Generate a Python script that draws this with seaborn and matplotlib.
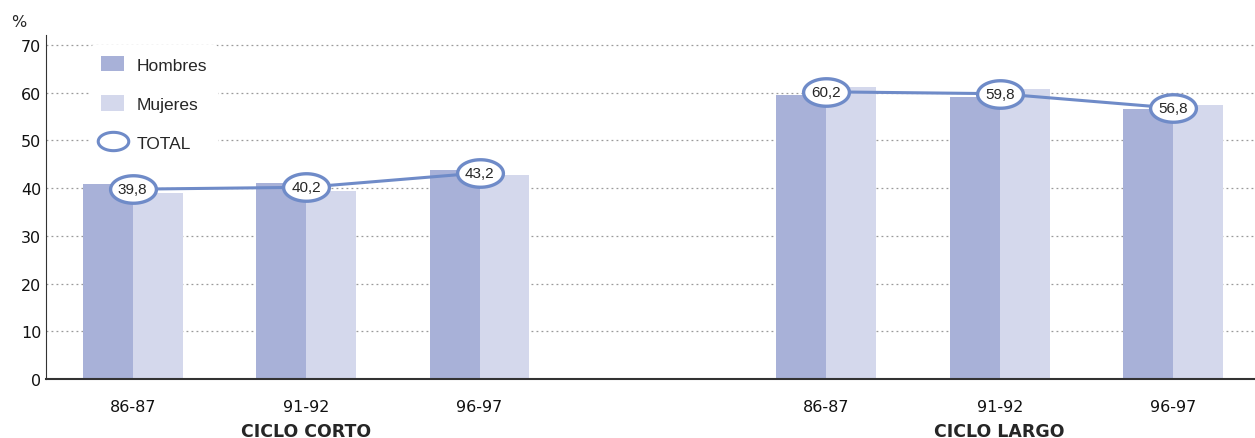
import numpy as np
import pandas as pd
import seaborn as sns
import matplotlib.pyplot as plt
from matplotlib.path import Path
from matplotlib.patches import Patch
from matplotlib.lines import Line2D

# data
ciclos = ["CICLO CORTO", "CICLO LARGO"]
cursos = ["86-87", "91-92", "96-97"]
hombres = [40.9, 41.1, 43.8, 59.6, 59.2, 56.5]
mujeres = [39.0, 39.5, 42.8, 61.2, 60.8, 57.5]
total = [39.8, 40.2, 43.2, 60.2, 59.8, 56.8]
total_labels = ["39,8", "40,2", "43,2", "60,2", "59,8", "56,8"]

c_hom = "#a8b1d8"
c_muj = "#d4d8ec"
c_tot = "#6f8bc8"

sns.set_style("white")
plt.rcParams["font.family"] = ["Liberation Sans Narrow", "DejaVu Sans"]

pos = [0, 1, 2, 4, 5, 6]
ciclo_col = [ciclos[0]] * 3 + [ciclos[1]] * 3
bars = pd.DataFrame({
    "pos": pos * 2,
    "valor": hombres + mujeres,
    "sexo": ["Hombres"] * 6 + ["Mujeres"] * 6,
})
tot = pd.DataFrame({"pos": pos, "total": total, "ciclo": ciclo_col})

# ellipse marker
t = np.linspace(0, 2 * np.pi, 60)
ellipse = Path(np.column_stack([np.cos(t), 0.6 * np.sin(t)]), closed=True)

fig = plt.figure(figsize=(12.55, 4.39), dpi=100)
ax = fig.add_axes([0.0367, 0.134, 0.963, 0.784])

sns.barplot(data=bars, x="pos", y="valor", hue="sexo", native_scale=True,
            palette=[c_hom, c_muj], width=0.576, gap=0, saturation=1,
            linewidth=0, legend=False, ax=ax, zorder=2)

sns.lineplot(data=tot, x="pos", y="total", units="ciclo", estimator=None,
             color=c_tot, linewidth=2.2, marker=ellipse, markersize=33,
             markerfacecolor="white", markeredgecolor=c_tot,
             markeredgewidth=2.4, legend=False, ax=ax, zorder=3)

for p, v, lab in zip(pos, total, total_labels):
    ax.text(p, v, lab, ha="center", va="center", fontsize=11,
            family=["Liberation Sans", "DejaVu Sans"], zorder=4)

ax.set_xlim(-0.5, 6.47)
ax.set_ylim(0, 72.1)
ax.set_yticks(range(0, 71, 10))
ax.set_xticks(pos)
ax.set_xticklabels(cursos * 2)
ax.tick_params(axis="both", length=0, labelsize=11.5, colors="#111111")
ax.tick_params(axis="x", pad=14)
ax.set_xlabel("")
ax.set_ylabel("")
ax.yaxis.grid(True, linestyle=(0, (1.5, 2.5)), color="#9a9a9a", linewidth=0.9)
ax.set_axisbelow(True)
for s in ["top", "right"]:
    ax.spines[s].set_visible(False)
ax.spines["left"].set_color("#333333")
ax.spines["bottom"].set_color("#333333")
ax.spines["bottom"].set_linewidth(1.5)

fig.text(0.009, 0.948, "%", fontsize=11.5, ha="left", va="center")
for x, lab in [(1, ciclos[0]), (5, ciclos[1])]:
    ax.annotate(lab, xy=(x, 0), xycoords=("data", "axes fraction"),
                xytext=(0, -37), textcoords="offset points", ha="center",
                va="center", fontsize=12.5, fontweight="bold")

handles = [
    Patch(facecolor=c_hom, edgecolor="none"),
    Patch(facecolor=c_muj, edgecolor="none"),
    Line2D([], [], linestyle="none", marker=ellipse, markersize=22,
           markerfacecolor="white", markeredgecolor=c_tot, markeredgewidth=2.2),
]
leg = ax.legend(handles, ["Hombres", "Mujeres", "TOTAL"], loc="upper left",
                bbox_to_anchor=(0.03, 0.995), frameon=True,
                labelspacing=1.3, handlelength=1.3, handleheight=1.0,
                handletextpad=0.7, borderpad=0.6,
                prop={"family": ["Liberation Sans", "DejaVu Sans"], "size": 12.5})
leg.get_frame().set_edgecolor("white")
leg.get_frame().set_facecolor("white")
leg.get_frame().set_alpha(1)

fig.savefig("out.png", dpi=100)
